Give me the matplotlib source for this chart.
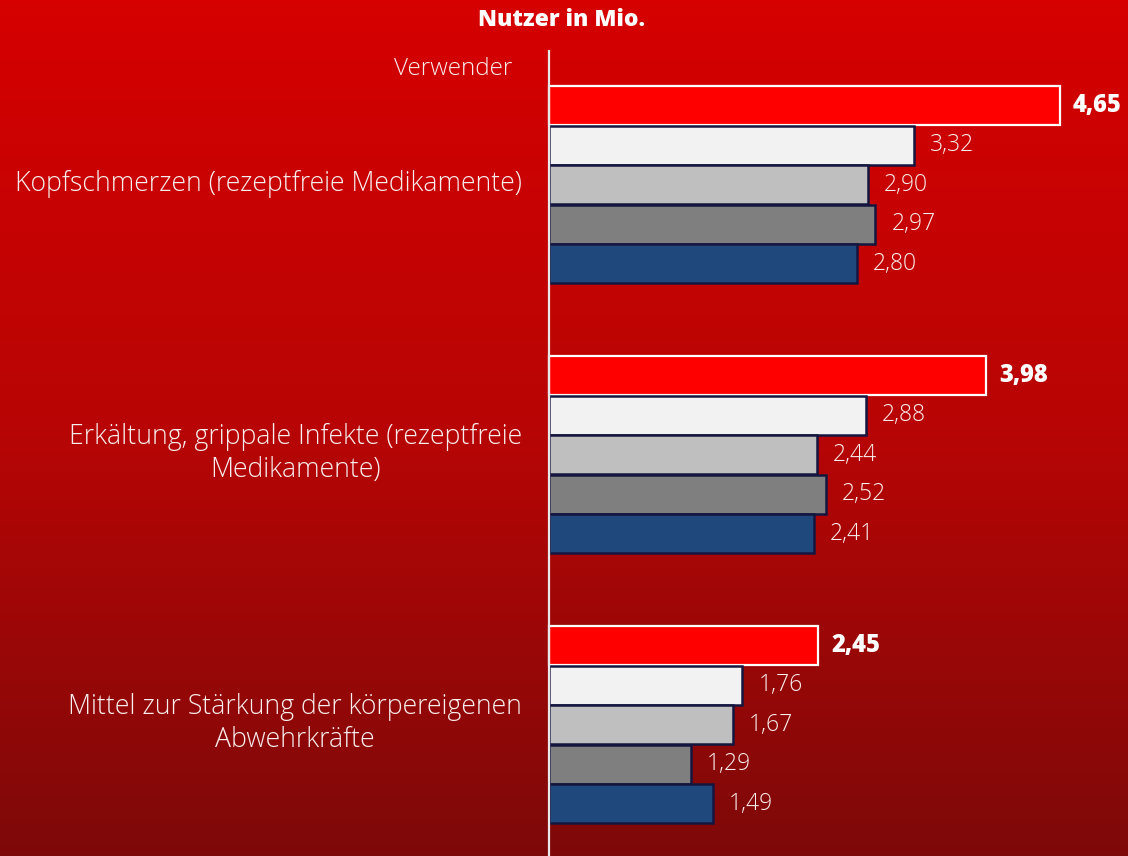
import numpy as np
import matplotlib
matplotlib.use("Agg")
import matplotlib.pyplot as plt
from matplotlib.colors import LinearSegmentedColormap

# ---- data ----
categories = [
    "Kopfschmerzen (rezeptfreie Medikamente)",
    "Erkältung, grippale Infekte (rezeptfreie\nMedikamente)",
    "Mittel zur Stärkung der körpereigenen\nAbwehrkräfte",
]
series_verwender = [4.65, 3.98, 2.45]
series_2 = [3.32, 2.88, 1.76]
series_3 = [2.90, 2.44, 1.67]
series_4 = [2.97, 2.52, 1.29]
series_5 = [2.80, 2.41, 1.49]
title = "Nutzer in Mio."
legend_label = "Verwender"

series = [series_verwender, series_2, series_3, series_4, series_5]
colors = ["#FF0000", "#F2F2F2", "#BFBFBF", "#7F7F7F", "#1F497D"]
edges = ["#FFFFFF", "#15163F", "#15163F", "#15163F", "#15163F"]

W, H = 1128, 856
fig = plt.figure(figsize=(W / 100, H / 100), dpi=100)

# background gradient
bg = fig.add_axes([0, 0, 1, 1], zorder=0)
cmap = LinearSegmentedColormap.from_list("bg", ["#D60000", "#B80505", "#7E0909"])
grad = np.linspace(0, 1, 256).reshape(-1, 1)
bg.imshow(grad, aspect="auto", cmap=cmap, extent=[0, 1, 0, 1], origin="upper")
bg.set_axis_off()

ax = fig.add_axes([0, 0, 1, 1], zorder=1)
ax.patch.set_alpha(0)

px_per_unit = 109.9
x0_px = 549
pitch = 39.6
first_center = 105.5
group_step = 270 / pitch

ax.set_xlim(-x0_px / px_per_unit, (W - x0_px) / px_per_unit)
ax.set_ylim((H - first_center) / pitch, -first_center / pitch)
ax.set_axis_off()

FONT = "Open Sans"
TXT = "#F8EEEE"
for gi, cat in enumerate(categories):
    base = gi * group_step
    for si, s in enumerate(series):
        y = base + si
        v = s[gi]
        ax.barh(y, v, height=0.985, left=0, color=colors[si], edgecolor=edges[si],
                linewidth=1.8 if si else 1.6, zorder=3)
        lbl = f"{v:.2f}".replace(".", ",")
        if si == 0:
            ax.annotate(lbl, (v, y), xytext=(13, 0), textcoords="offset pixels",
                        ha="left", va="center", color="white", fontsize=17,
                        fontweight="heavy", family=FONT)
        else:
            ax.annotate(lbl, (v, y), xytext=(16, 0), textcoords="offset pixels",
                        ha="left", va="center", color=TXT, fontsize=16.5,
                        fontweight="light", family=FONT)
    ax.annotate(cat, (0, base + 2), xytext=(-27, 1), textcoords="offset pixels",
                ha="right", va="center", multialignment="center",
                color=TXT, fontsize=19.2, fontweight="light", family=FONT,
                linespacing=1.22)

# legend-like label
ax.annotate(legend_label, (0, -1), xytext=(-37, -3), textcoords="offset pixels",
            ha="right", va="center", color=TXT, fontsize=17.5,
            fontweight="light", family=FONT)

# vertical axis line
ax.plot([0, 0], [(50 - first_center) / pitch, (H - first_center) / pitch],
        color="#E8E8E8", lw=1.6, zorder=4, solid_capstyle="butt")

fig.text(562 / W, 1 - 20 / H, title, ha="center", va="center", color="white",
         fontsize=16.5, fontweight="heavy", family=FONT)

fig.savefig("out.png", dpi=100)
